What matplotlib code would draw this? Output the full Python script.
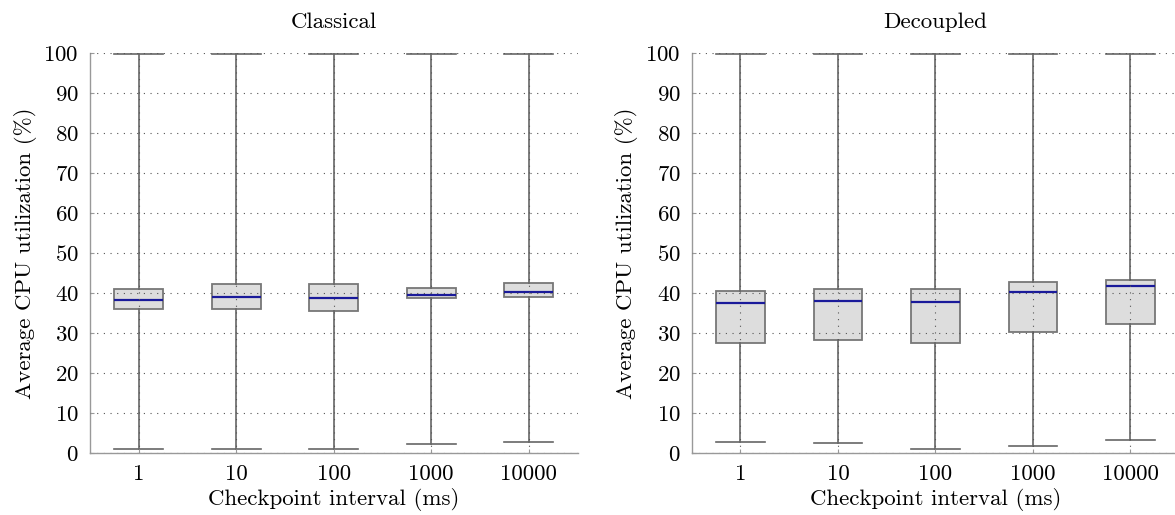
import matplotlib
matplotlib.use("Agg")
import matplotlib.pyplot as plt

plt.rcParams['font.family'] = 'serif'
plt.rcParams['font.serif'] = ['cmr10', 'DejaVu Serif']
plt.rcParams['axes.formatter.use_mathtext'] = True
plt.rcParams['axes.unicode_minus'] = False

intervals = ["1", "10", "100", "1000", "10000"]

# classical
cl_low = [1.0, 1.0, 1.1, 2.25, 2.8]
cl_q1 = [36.0, 35.9, 35.6, 38.8, 39.0]
cl_med = [38.3, 39.0, 38.75, 39.6, 40.25]
cl_q3 = [40.9, 42.2, 42.3, 41.3, 42.6]
cl_high = [99.8, 99.7, 99.8, 99.8, 99.8]

# decoupled
de_low = [2.8, 2.6, 1.0, 1.8, 3.3]
de_q1 = [27.6, 28.3, 27.5, 30.2, 32.25]
de_med = [37.4, 38.0, 37.75, 40.2, 41.8]
de_q3 = [40.6, 41.0, 41.0, 42.7, 43.3]
de_high = [99.8, 99.8, 99.7, 99.8, 99.8]

fs = 16.5

fig = plt.figure(figsize=(11.75, 5.15), dpi=100)
ax1 = fig.add_axes([90/1175, 62/515, 487.5/1175, 400/515])
ax2 = fig.add_axes([691.7/1175, 62/515, 487.5/1175, 400/515])

def draw(ax, low, q1, med, q3, high, title):
    stats = []
    for i in range(len(intervals)):
        stats.append(dict(whislo=low[i], q1=q1[i], med=med[i], q3=q3[i],
                          whishi=high[i], fliers=[], label=intervals[i]))
    ax.bxp(stats, positions=range(1, 6), widths=0.5, patch_artist=True,
           showfliers=False,
           boxprops=dict(facecolor='#dddddd', edgecolor='#777777', linewidth=1.3),
           medianprops=dict(color='#1a1a9a', linewidth=1.6),
           whiskerprops=dict(color='#666666', linewidth=1.2),
           capprops=dict(color='#666666', linewidth=1.2),
           capwidths=0.5)
    ax.set_xlim(0.5, 5.5)
    ax.set_ylim(0, 100)
    ax.set_yticks(range(0, 101, 10))
    ax.set_axisbelow(False)
    ax.grid(True, linestyle=(0, (1, 5)), color='#555555', linewidth=0.8)
    for s in ['top', 'right']:
        ax.spines[s].set_visible(False)
    for s in ['left', 'bottom']:
        ax.spines[s].set_color('#999999')
        ax.spines[s].set_linewidth(1.0)
    ax.tick_params(direction='in', length=3, color='#999999', labelsize=fs, pad=8)
    ax.set_title(title, fontsize=fs, pad=18)
    ax.set_xlabel("Checkpoint interval (ms)", fontsize=fs, labelpad=3)
    ax.set_ylabel("Average CPU utilization (%)", fontsize=fs, labelpad=5)

draw(ax1, cl_low, cl_q1, cl_med, cl_q3, cl_high, "Classical")
draw(ax2, de_low, de_q1, de_med, de_q3, de_high, "Decoupled")

fig.savefig("out.png", dpi=100)
